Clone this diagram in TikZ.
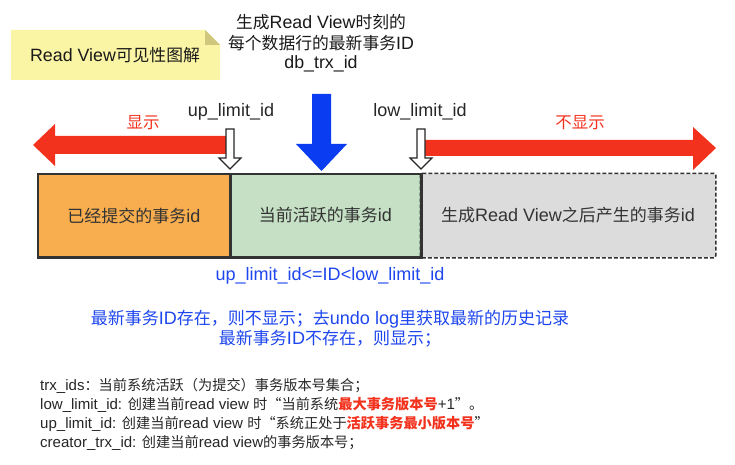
\documentclass[tikz,border=0pt]{standalone}
\usepackage{fontspec}
\setmainfont{Liberation Sans}[Scale=1.06]
\newfontfamily\cjkf{Noto Sans CJK SC}
\XeTeXinterchartokenstate=1
\newXeTeXintercharclass\cjkcls
\newcount\rvcnt
\def\rvrange#1#2{\rvcnt=#1\relax\loop\XeTeXcharclass\rvcnt=\cjkcls\relax\ifnum\rvcnt<#2\relax\advance\rvcnt by 1\relax\repeat}
\rvrange{"4E00}{"9FFF}
\rvrange{"3000}{"303F}
\rvrange{"FF00}{"FFEF}
\XeTeXcharclass"201C=\cjkcls
\XeTeXcharclass"201D=\cjkcls
\XeTeXinterchartoks 0 \cjkcls = {\begingroup\cjkf}
\XeTeXinterchartoks 4095 \cjkcls = {\begingroup\cjkf}
\XeTeXinterchartoks \cjkcls 0 = {\endgroup}
\XeTeXinterchartoks \cjkcls 4095 = {\endgroup}
\usetikzlibrary{calc}
\definecolor{rvred}{HTML}{F3321E}
\definecolor{rvblue}{HTML}{0A3CF2}
\definecolor{rvtxtblue}{HTML}{1E46EE}
\definecolor{rvorange}{HTML}{F8AE4F}
\definecolor{rvgreen}{HTML}{C5E0C4}
\definecolor{rvgray}{HTML}{DCDCDC}
\definecolor{rvnote}{HTML}{FAF5A5}
\definecolor{rvfold}{HTML}{CFC77C}
\definecolor{rvdark}{HTML}{333333}
\tikzset{
  region/.style={draw=rvdark, line width=1.5pt, minimum height=83, inner sep=0pt, font=\fontsize{17}{19}\selectfont, text=rvdark},
  toptext/.style={font=\fontsize{16.8}{19}\selectfont, text=black!90},
  lbl/.style={font=\fontsize{17}{19}\selectfont, text=black!85},
  redlbl/.style={font=\fontsize{16.5}{18}\selectfont, text=rvred},
  bluetxt/.style={font=\fontsize{17}{19}\selectfont, text=rvtxtblue},
  deftxt/.style={font=\fontsize{14.2}{16}\selectfont, text=black!85, anchor=west, inner sep=0pt},
  hollow/.style={draw=black!85, fill=white, line width=1.1pt, line join=miter},
}
\begin{document}
\begin{tikzpicture}[x=1pt,y=-1pt]
\useasboundingbox (0,0) rectangle (735,465);
% note
\fill[rvnote] (11,30) -- (205,30) -- (220,45) -- (220,80) -- (11,80) -- cycle;
\fill[rvfold] (205,30) -- (205,45) -- (220,45) -- cycle;
\node[toptext] (note) at (115,55) {Read View可见性图解};
% top text
\node[toptext] (t1) at (321,22) {生成Read View时刻的};
\node[toptext] (t2) at (321,43) {每个数据行的最新事务ID};
\node[toptext] (t3) at (321,64) {db\_trx\_id};
% boxes
\node[region, fill=rvorange, minimum width=192] (o) at (134,215.5) {已经提交的事务id};
\node[region, fill=rvgreen, minimum width=191] (g) at (325.5,215.5) {当前活跃的事务id};
\node[region, fill=rvgray, minimum width=294, draw=none] (r) at (568,215.5) {生成Read View之后产生的事务id};
\draw[rvdark, line width=1.5pt, dashed, dash pattern=on 4pt off 2pt, rounded corners=2pt]
  (r.north west) -- (r.north east) -- (r.south east) -- (r.south west) -- cycle;
\draw[rvdark, line width=1.5pt] (o.north west) rectangle (o.south east);
\draw[rvdark, line width=1.5pt] (g.north west) rectangle (g.south east);
% red arrows
\fill[rvred] (226,136) -- (55,136) -- (55,124) -- (33,145) -- (55,166) -- (55,154) -- (226,154) -- cycle;
\fill[rvred] (421,140) -- (693,140) -- (693,127) -- (716,148) -- (693,170) -- (693,156) -- (421,156) -- cycle;
\node[redlbl] (show) at (143,123) {显示};
\node[redlbl] (noshow) at (580,123) {不显示};
% blue arrow
\fill[rvblue] (312,94) -- (331,94) -- (331,144) -- (347,144) -- (321.5,171) -- (296,144) -- (312,144) -- cycle;
% hollow arrows
\node[lbl] (up) at (231,112) {up\_limit\_id};
\node[lbl] (low) at (420,112) {low\_limit\_id};
\draw[hollow] (226,129) -- (234,129) -- (234,158) -- (241,158) -- (230,169) -- (219,158) -- (226,158) -- cycle;
\draw[hollow] (417,129) -- (425,129) -- (425,158) -- (432,158) -- (421,169) -- (410,158) -- (417,158) -- cycle;
% blue text
\node[bluetxt] (cond) at (330,276) {up\_limit\_id<=ID<low\_limit\_id};
\node[bluetxt] (b1) at (330,319) {最新事务ID存在，则不显示；去undo log里获取最新的历史记录};
\node[bluetxt] (b2) at (330,339) {最新事务ID不存在，则显示；};
% definitions
\node[deftxt] (d1) at (40,386) {trx\_ids：当前系统活跃（为提交）事务版本号集合；};
\node[deftxt] (d2) at (40,405) {low\_limit\_id: 创建当前read view 时“当前系统{\color{rvred}\bfseries 最大事务版本号}+1”。};
\node[deftxt] (d3) at (40,424) {up\_limit\_id: 创建当前read view 时“系统正处于{\color{rvred}\bfseries 活跃事务最小版本号}”};
\node[deftxt] (d4) at (40,443) {creator\_trx\_id: 创建当前read view的事务版本号；};
\end{tikzpicture}
\end{document}
